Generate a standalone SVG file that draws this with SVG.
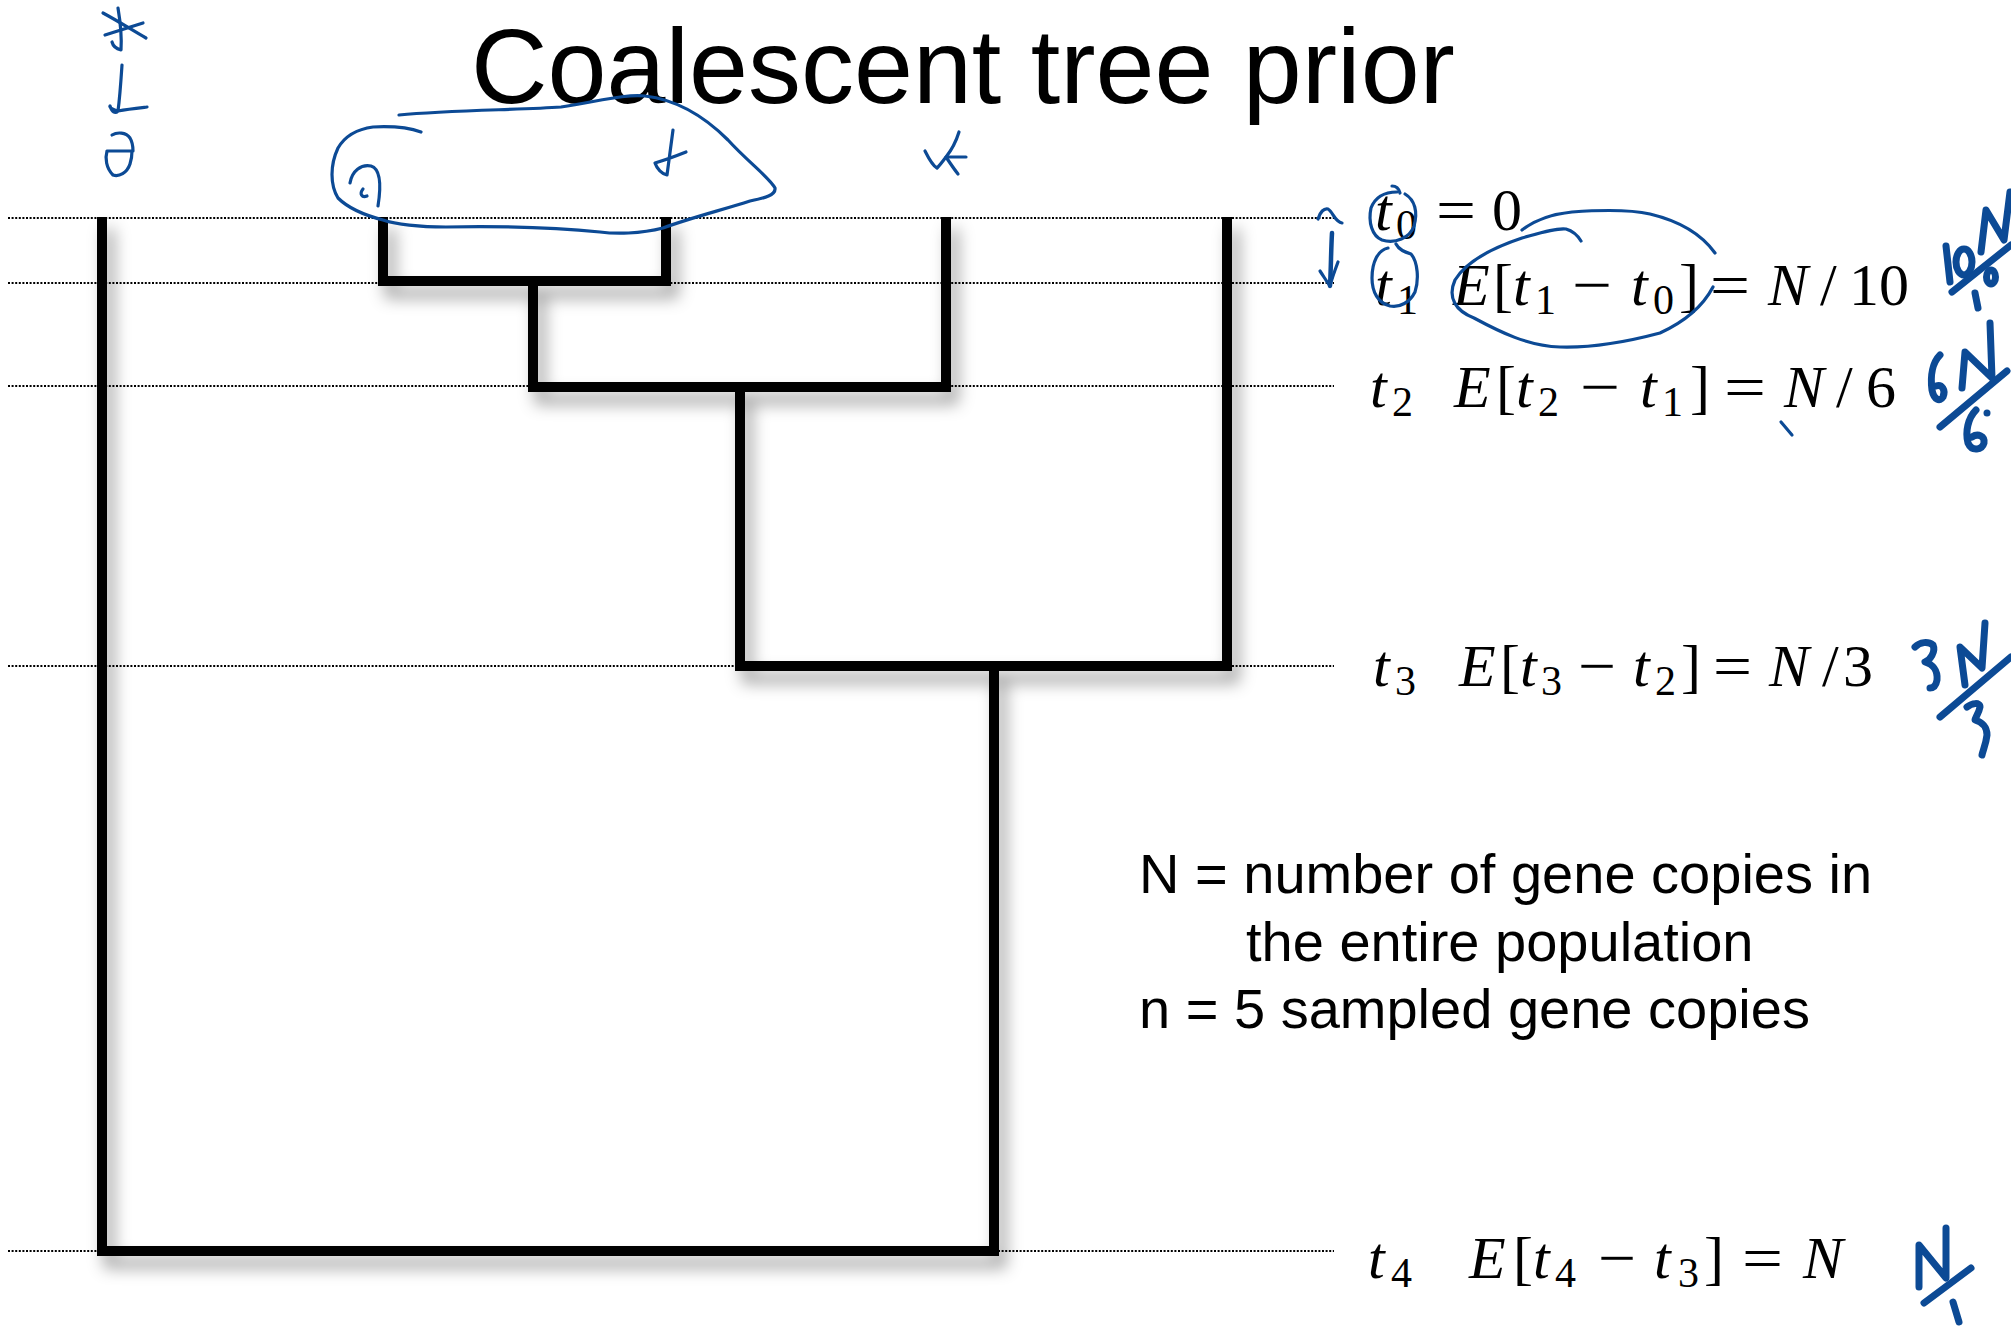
<svg xmlns="http://www.w3.org/2000/svg" width="2011" height="1334" viewBox="0 0 2011 1334">
  <defs>
    <filter id="shadow" x="-10%" y="-10%" width="130%" height="130%">
      <feDropShadow dx="7" dy="12" stdDeviation="8" flood-color="#000" flood-opacity="0.38"/>
    </filter>
  </defs>
  <style>
    .grid { stroke: #000; stroke-width: 2; stroke-dasharray: 2 1.6; fill: none; }
    .branch { stroke: #000; stroke-width: 10; fill: none; stroke-linejoin: miter; stroke-linecap: butt; }
    .title { font-family: "Liberation Sans", Arial, sans-serif; font-size: 106px; fill: #000; }
    .note { font-family: "Liberation Sans", Arial, sans-serif; font-size: 56px; fill: #000; }
    .m { font-family: "Liberation Serif", "Times New Roman", serif; font-size: 60px; fill: #000; }
    .i { font-style: italic; }
    .s { font-size: 42px; font-style: normal; }
    .ink { stroke: #0c4a95; fill: none; stroke-linecap: round; stroke-linejoin: round; stroke-width: 3.2; }
    .ink-bold { stroke: #0c4a95; fill: none; stroke-linecap: round; stroke-linejoin: round; stroke-width: 7; }
  </style>

  <rect width="2011" height="1334" fill="#fff"/>

  <!-- time levels -->
  <g id="time-levels">
    <line class="grid" x1="8" y1="218" x2="1334" y2="218"/>
    <line class="grid" x1="8" y1="283" x2="1334" y2="283"/>
    <line class="grid" x1="8" y1="386" x2="1334" y2="386"/>
    <line class="grid" x1="8" y1="666" x2="1334" y2="666"/>
    <line class="grid" x1="8" y1="1251" x2="1334" y2="1251"/>
  </g>

  <!-- genealogy branches -->
  <g id="connectors" filter="url(#shadow)">
    <path id="node-t1" class="branch" d="M383,217 V281 H666 V217"/>
    <path id="node-t2" class="branch" d="M533,281 V387 H946 V217"/>
    <path id="node-t3" class="branch" d="M740,387 V666 H1227 V217"/>
    <path id="node-t4" class="branch" d="M994,666 V1251 H102 V217"/>
  </g>

  <g id="title">
    <text class="title" x="471" y="103">Coalescent tree prior</text>
  </g>

  <!-- expected waiting times -->
  <g id="row-t0">
    <text class="m"><tspan class="i" x="1375" y="230">t</tspan><tspan class="s" x="1396" y="239">0</tspan></text>
    <text class="m" x="1436" y="230" textLength="40" lengthAdjust="spacingAndGlyphs">=</text>
    <text class="m" x="1492" y="230">0</text>
  </g>
  <g id="row-t1">
    <text class="m"><tspan class="i" x="1375" y="305">t</tspan><tspan class="s" x="1397" y="314">1</tspan><tspan class="i" x="1453" y="305">E</tspan><tspan x="1493" y="305">[</tspan><tspan class="i" x="1513" y="305">t</tspan><tspan class="s" x="1535" y="314">1</tspan></text>
    <text class="m" x="1572" y="305" textLength="40" lengthAdjust="spacingAndGlyphs">−</text>
    <text class="m"><tspan class="i" x="1631" y="305">t</tspan><tspan class="s" x="1653" y="314">0</tspan><tspan x="1679" y="305">]</tspan></text>
    <text class="m" x="1710" y="305" textLength="40" lengthAdjust="spacingAndGlyphs">=</text>
    <text class="m"><tspan class="i" x="1768" y="305">N</tspan><tspan x="1820" y="305">/</tspan><tspan x="1849" y="305">10</tspan></text>
  </g>
  <g id="row-t2">
    <text class="m"><tspan class="i" x="1370" y="407">t</tspan><tspan class="s" x="1392" y="416">2</tspan><tspan class="i" x="1454" y="407">E</tspan><tspan x="1496" y="407">[</tspan><tspan class="i" x="1516" y="407">t</tspan><tspan class="s" x="1538" y="416">2</tspan></text>
    <text class="m" x="1580" y="407" textLength="40" lengthAdjust="spacingAndGlyphs">−</text>
    <text class="m"><tspan class="i" x="1640" y="407">t</tspan><tspan class="s" x="1662" y="416">1</tspan><tspan x="1690" y="407">]</tspan></text>
    <text class="m" x="1724" y="407" textLength="42" lengthAdjust="spacingAndGlyphs">=</text>
    <text class="m"><tspan class="i" x="1784" y="407">N</tspan><tspan x="1836" y="407">/</tspan><tspan x="1866" y="407">6</tspan></text>
  </g>
  <g id="row-t3">
    <text class="m"><tspan class="i" x="1373" y="686">t</tspan><tspan class="s" x="1395" y="695">3</tspan><tspan class="i" x="1459" y="686">E</tspan><tspan x="1500" y="686">[</tspan><tspan class="i" x="1520" y="686">t</tspan><tspan class="s" x="1541" y="695">3</tspan></text>
    <text class="m" x="1578" y="686" textLength="38" lengthAdjust="spacingAndGlyphs">−</text>
    <text class="m"><tspan class="i" x="1633" y="686">t</tspan><tspan class="s" x="1655" y="695">2</tspan><tspan x="1681" y="686">]</tspan></text>
    <text class="m" x="1713" y="686" textLength="39" lengthAdjust="spacingAndGlyphs">=</text>
    <text class="m"><tspan class="i" x="1769" y="686">N</tspan><tspan x="1822" y="686">/</tspan><tspan x="1843" y="686">3</tspan></text>
  </g>
  <g id="row-t4">
    <text class="m"><tspan class="i" x="1368" y="1278">t</tspan><tspan class="s" x="1391" y="1287">4</tspan><tspan class="i" x="1469" y="1278">E</tspan><tspan x="1513" y="1278">[</tspan><tspan class="i" x="1533" y="1278">t</tspan><tspan class="s" x="1555" y="1287">4</tspan></text>
    <text class="m" x="1598" y="1278" textLength="38" lengthAdjust="spacingAndGlyphs">−</text>
    <text class="m"><tspan class="i" x="1654" y="1278">t</tspan><tspan class="s" x="1678" y="1287">3</tspan><tspan x="1704" y="1278">]</tspan></text>
    <text class="m" x="1742" y="1278" textLength="41" lengthAdjust="spacingAndGlyphs">=</text>
    <text class="m i" x="1803" y="1278">N</text>
  </g>

  <!-- definitions -->
  <g id="legend">
    <text class="note" x="1139" y="893">N = number of gene copies in</text>
    <text class="note" x="1246" y="961">the entire population</text>
    <text class="note" x="1139" y="1028">n = 5 sampled gene copies</text>
  </g>

  <!-- pen annotations -->
  <g id="ink-tips">
    <!-- marks written above the first tip -->
    <path class="ink" d="M118,8 C120,20 122,35 121,50 C117,49 113,46 112,42"/>
    <path class="ink" d="M103,13 C118,21 132,30 146,38"/>
    <path class="ink" d="M105,35 C118,31 130,27 143,23"/>
    <path class="ink" d="M122,65 C121,80 120,96 118,111 C113,110 109,107 110,106 C112,112 115,114 118,111 C128,109 138,108 147,107"/>
    <path class="ink" d="M112,135 C117,132 126,132 130,138 C133,143 133,148 133,151 C124,151 114,151 107,151 C105,158 106,168 113,175 C119,177 127,173 130,164 C132,158 132,154 132,151"/>
    <!-- lasso round the first pair -->
    <path class="ink" d="M399,115 C450,110 520,110 561,107 C600,101 625,94 645,96 C680,100 708,120 728,140 C748,162 770,178 775,188 C776,195 765,198 750,201 C722,210 690,218 663,228 C640,234 615,234 600,232 C560,228 500,226 446,227 C420,227 395,224 383,220 C360,214 345,205 338,198 C330,185 330,165 338,148 C345,136 358,129 373,127 C393,126 410,128 421,132"/>
    <path class="ink" d="M350,183 C352,171 361,164 371,166 C381,169 381,187 378,206"/>
    <path class="ink" d="M363,189 C359,194 362,198 367,196"/>
    <path class="ink" d="M673,130 C671,145 669,160 667,175 C662,174 657,169 655,163 C665,160 676,156 686,152"/>
    <path class="ink" d="M959,132 C955,145 950,152 946,157 C950,163 954,169 958,174"/>
    <path class="ink" d="M925,151 C929,159 933,166 937,168 C940,165 943,161 946,157 C952,157 959,157 966,157"/>
  </g>

  <g id="ink-times">
    <path class="ink" d="M1318,219 C1320,212 1324,208 1328,209 C1333,212 1335,222 1342,223"/>
    <path class="ink" d="M1332,233 C1331,250 1331,268 1330,286" style="stroke-width:4.5"/>
    <path class="ink" d="M1320,271 C1324,277 1327,282 1330,286 C1332,278 1335,270 1338,262"/>
    <path class="ink" d="M1397,192 C1388,192 1376,195 1371,208 C1368,222 1372,236 1382,240 C1395,244 1410,238 1414,226 C1418,212 1415,200 1405,194"/>
    <path class="ink" d="M1392,186 C1396,186 1399,189 1400,193"/>
    <path class="ink" d="M1396,244 C1399,250 1405,252 1411,254 C1418,262 1419,280 1415,292 C1410,302 1400,308 1390,306 C1378,303 1372,292 1372,278 C1372,262 1378,250 1388,248"/>
    <path class="ink" d="M1522,230 C1535,220 1552,214 1572,212 C1600,210 1628,209 1650,214 C1675,220 1700,232 1715,253"/>
    <path class="ink" d="M1581,241 C1578,236 1573,231 1566,229 C1555,228 1540,233 1522,238 C1492,248 1466,262 1455,280 C1447,298 1456,311 1474,318 C1500,332 1528,346 1560,347 C1592,348 1630,341 1660,333 C1684,322 1703,306 1713,287"/>
    <path class="ink" d="M1781,422 L1792,435"/>
  </g>

  <g id="ink-fractions">
    <!-- 10N/10 -->
    <path class="ink-bold" d="M1946,246 L1950,282"/>
    <ellipse class="ink-bold" cx="1964" cy="262" rx="8" ry="13"/>
    <path class="ink-bold" d="M1981,252 L1986,210 L2004,240 L2010,192"/>
    <path class="ink-bold" d="M1952,292 L2011,245"/>
    <path class="ink-bold" d="M1975,293 L1978,308"/>
    <ellipse class="ink-bold" cx="1991" cy="277" rx="4.5" ry="7"/>
    <!-- 6N/6 -->
    <path class="ink-bold" d="M1940,355 C1933,362 1930,375 1932,390 C1934,400 1940,402 1943,397 C1946,390 1942,384 1936,386"/>
    <path class="ink-bold" d="M1962,388 L1965,352 L1992,378 L1990,323"/>
    <path class="ink-bold" d="M1940,427 L2007,371"/>
    <path class="ink-bold" d="M1976,410 C1968,418 1965,432 1968,443 C1972,452 1982,450 1984,443 C1985,436 1978,433 1972,437"/>
    <circle cx="1987" cy="413" r="3.5" fill="#0c4a95"/>
    <!-- 3N/3 -->
    <path class="ink-bold" d="M1915,647 C1920,642 1928,641 1933,645 C1936,652 1930,660 1925,662 C1932,664 1938,670 1937,680 C1936,686 1933,688 1930,688"/>
    <path class="ink-bold" d="M1965,685 L1960,647 L1982,668 L1985,623"/>
    <path class="ink-bold" d="M1940,717 L2011,657"/>
    <path class="ink-bold" d="M1967,707 C1972,703 1980,702 1980,707 C1979,713 1975,718 1975,720 C1982,722 1987,727 1987,735 C1986,744 1983,750 1982,755"/>
    <!-- N/1 -->
    <path class="ink-bold" d="M1919,1287 L1919,1245 L1946,1278 L1946,1228"/>
    <path class="ink-bold" d="M1924,1303 L1971,1268"/>
    <path class="ink-bold" d="M1953,1302 L1959,1322"/>
  </g>
</svg>
